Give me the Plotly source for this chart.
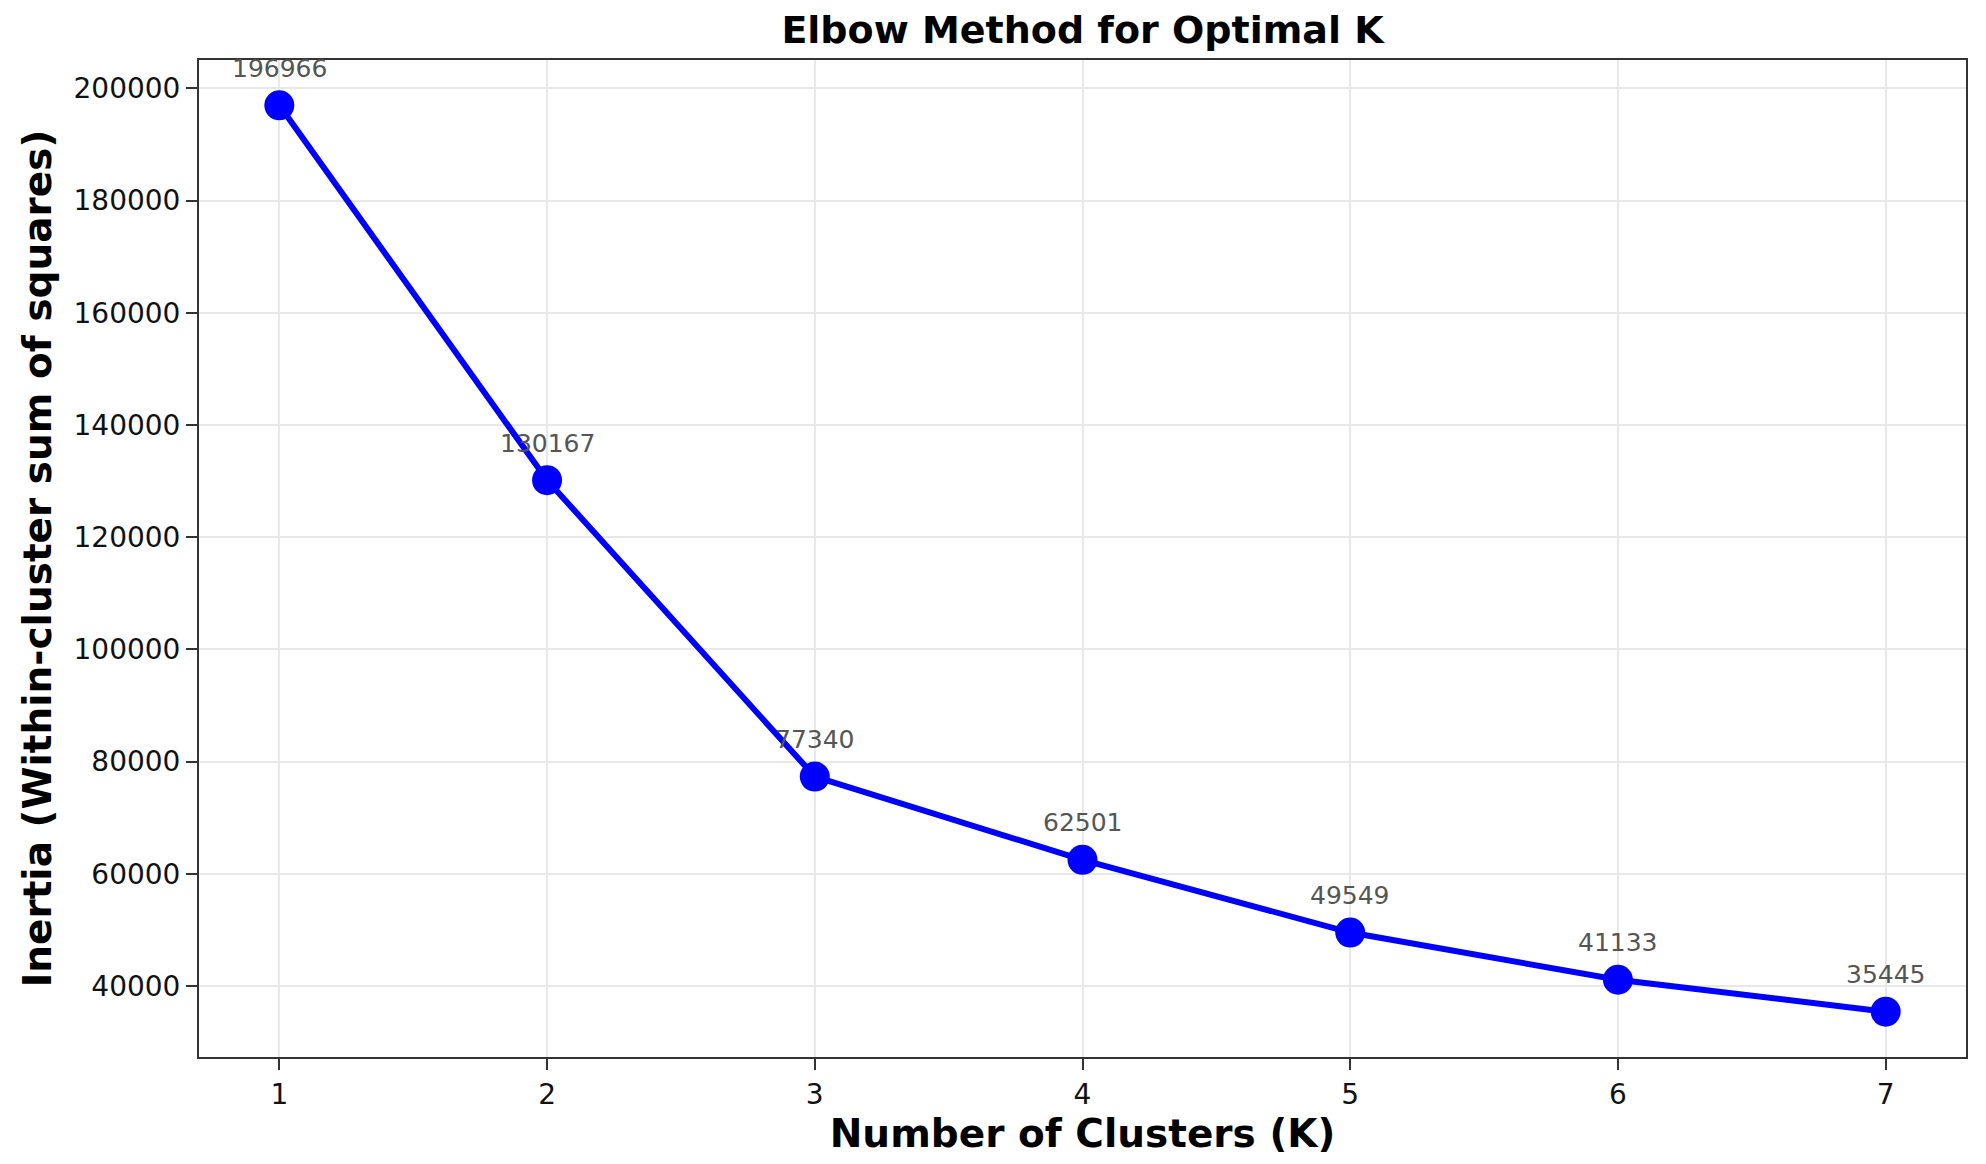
import plotly.graph_objects as go

k_values = [1, 2, 3, 4, 5, 6, 7]
inertia = [196966, 130167, 77340, 62501, 49549, 41133, 35445]
x_ticks = [1, 2, 3, 4, 5, 6, 7]
y_ticks = [40000, 60000, 80000, 100000, 120000, 140000, 160000, 180000, 200000]

FONT = "DejaVu Sans"

# page body has an 8px default margin; compensate
W, H = 1978, 1156

fig = go.Figure()
fig.add_trace(go.Scatter(
    x=k_values, y=inertia, mode="lines+markers",
    line=dict(color="#0000ff", width=6),
    marker=dict(color="#0000ff", size=30),
    showlegend=False, hoverinfo="skip",
))

for k, v in zip(k_values, inertia):
    fig.add_annotation(
        x=k, y=v, text=str(v), showarrow=False,
        yanchor="middle", yshift=37,
        font=dict(family=FONT, size=25, color="#555555"),
    )

axis_common = dict(
    showline=True, linecolor="#333333", linewidth=2, mirror=True,
    ticks="outside", ticklen=11, tickwidth=2, tickcolor="#333333",
    showgrid=True, gridcolor="#e8e8e8", gridwidth=2,
    zeroline=False,
    tickfont=dict(family=FONT, size=28, color="#111111"),
)

fig.update_layout(
    width=W, height=H,
    paper_bgcolor="white", plot_bgcolor="white",
    margin=dict(l=191, r=20, t=52, b=107),
    title=dict(
        text="<b>Elbow Method for Optimal K</b>",
        x=(191 + W - 20) / 2 / W, xanchor="center",
        y=1 - 22 / H, yanchor="middle", yref="container",
        font=dict(family=FONT, size=38, color="#000000"),
    ),
    xaxis=dict(
        **axis_common,
        range=[0.7, 7.3],
        tickvals=x_ticks, ticktext=[str(t) for t in x_ticks],
        title=dict(text="<b>Number of Clusters (K)</b>", standoff=6,
                   font=dict(family=FONT, size=39, color="#000000")),
    ),
    yaxis=dict(
        **axis_common,
        range=[27369, 205042],
        tickvals=y_ticks, tickformat="d",
        title=dict(text="<b>Inertia (Within-cluster sum of squares)</b>", standoff=10,
                   font=dict(family=FONT, size=39, color="#000000")),
    ),
)

fig.write_html("out.html")
